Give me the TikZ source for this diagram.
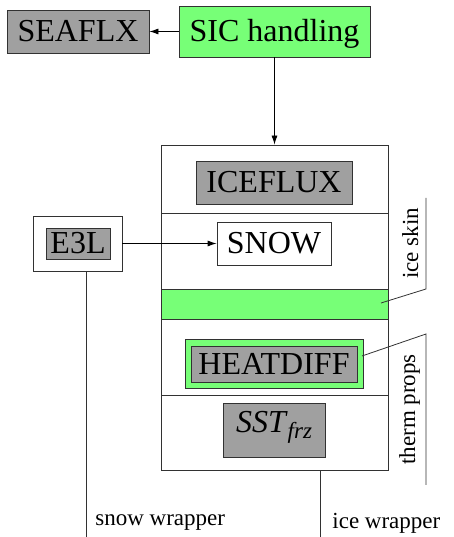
\documentclass[tikz,border=0pt]{standalone}
\usepackage{fontspec}
\setmainfont{Liberation Serif}
\usetikzlibrary{arrows.meta}
\definecolor{boxgray}{RGB}{160,160,160}
\definecolor{skingreen}{RGB}{119,255,119}
\definecolor{edgegray}{RGB}{50,50,50}
\tikzset{
  routine/.style={draw=edgegray, fill=boxgray, inner sep=0pt,
    font=\fontsize{32}{32}\selectfont, text height=21pt, text depth=0pt},
  frame/.style={draw=edgegray, inner sep=0pt},
  flow/.style={-{Latex[length=9pt,width=6pt]}},
  tag/.style={font=\fontsize{23}{23}\selectfont, inner sep=0pt}
}
\begin{document}
\begin{tikzpicture}[x=1pt,y=1pt,line width=0.8pt]
  \useasboundingbox (0,0) rectangle (454,537);
  % Top row
  \node[routine, minimum width=142pt, minimum height=43pt] (seaflx) at (78,505.5) {SEAFLX};
  \node[routine, fill=skingreen, minimum width=191pt, minimum height=51pt] (sic) at (274.5,505.5) {SIC handling};
  \draw[flow] (sic) -- (seaflx);
  % Ice column
  \node[frame, minimum width=227pt, minimum height=325pt] (icebox) at (274.5,229.5) {};
  \draw[flow] (sic) -- (icebox);
  \draw[edgegray] (161,324) -- (388,324);
  \draw[edgegray] (161,142) -- (388,142);
  \node[routine, minimum width=156pt, minimum height=43pt] (iceflux) at (274,354.5) {ICEFLUX};
  \node[routine, fill=white, minimum width=114pt, minimum height=43pt] (snow) at (274,293.5) {SNOW};
  \node[frame, fill=skingreen, minimum width=227pt, minimum height=30pt] (skin) at (274.5,233) {};
  \node[frame, fill=skingreen, minimum width=178pt, minimum height=49pt] (heatframe) at (274,173.5) {};
  \node[routine, minimum width=166pt, minimum height=36pt] (heatdiff) at (274,173) {HEATDIFF};
  \node[routine, minimum width=102pt, minimum height=54pt, text depth=15pt] (sst) at (274,107)
    {\textit{SST}\raisebox{-6pt}{\fontsize{23}{23}\selectfont\itshape frz}};
  % Snow layer
  \node[frame, fill=white, minimum width=89pt, minimum height=55pt] (e3lframe) at (77.5,293.5) {};
  \node[routine, minimum width=64pt, minimum height=31pt] (e3l) at (78,293.5) {E3L};
  \draw[flow] (e3lframe) -- (snow);
  % Wrappers
  \coordinate (snowend) at (86,0);
  \coordinate (iceend) at (320,0);
  \draw[edgegray] (snowend |- e3lframe.south) -- (snowend);
  \draw[edgegray] (iceend |- icebox.south) -- (iceend);
  \node[tag, anchor=base west] (snowwrap) at (95,12) {snow wrapper};
  \node[tag, anchor=base west] (icewrap) at (332,9) {ice wrapper};
  % Side brackets
  \coordinate (skintop) at (426,339);
  \coordinate (skinknee) at (426,248);
  \coordinate (skinpin) at (381,234);
  \draw[edgegray] (skintop) -- (skinknee) -- (skinpin);
  \node[tag, rotate=90, anchor=base] (skinlbl) at (418,293.5) {ice skin};
  \coordinate (thermtop) at (426,203);
  \coordinate (thermbot) at (426,52);
  \coordinate (thermpin) at (362,181);
  \draw[edgegray] (thermbot) -- (thermtop) -- (thermpin);
  \node[tag, rotate=90, anchor=base] (thermlbl) at (415,127.5) {therm props};
\end{tikzpicture}
\end{document}
